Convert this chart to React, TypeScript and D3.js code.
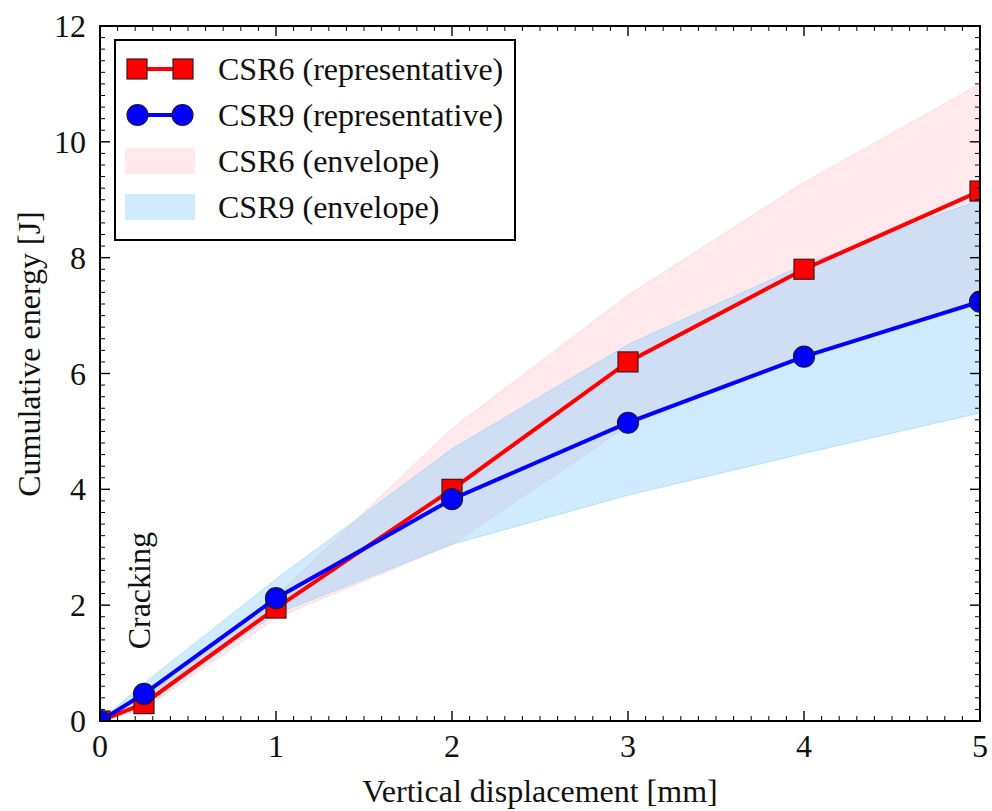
import React from "react";
import * as d3 from "d3";

// Displacement steps [mm]
const displacement = [0, 0.25, 1, 2, 3, 4, 5];

// Representative specimens: cumulative energy [J]
const csr6Rep = [0, 0.3, 1.95, 4.0, 6.2, 7.8, 9.15];
const csr9Rep = [0, 0.47, 2.12, 3.83, 5.15, 6.29, 7.24];

// Envelopes (min / max over all specimens) [J]
const csr6Lower = [0, 0.2, 1.78, 3.05, 5.1, 6.3, 7.2];
const csr6Upper = [0, 0.42, 2.15, 5.05, 7.35, 9.3, 11.0];
const csr9Lower = [0, 0.33, 1.85, 3.05, 3.9, 4.62, 5.32];
const csr9Upper = [0, 0.65, 2.45, 4.7, 6.5, 7.88, 9.0];

const xTicks = [0, 1, 2, 3, 4, 5];
const yTicks = [0, 2, 4, 6, 8, 10, 12];

const legendItems = [
  { label: "CSR6 (representative)", kind: "square" },
  { label: "CSR9 (representative)", kind: "circle" },
  { label: "CSR6 (envelope)", kind: "pinkFill" },
  { label: "CSR9 (envelope)", kind: "blueFill" },
];

const W = 992;
const H = 811;
const M = { left: 100, right: 980, top: 26, bottom: 721 };
const FONT = "Liberation Serif, Times New Roman, DejaVu Serif, serif";
const FS = 32;
const RED = "#ff0000";
const BLUE = "#0000ff";
const PINK_FILL = "rgba(255,192,203,0.35)";
const BLUE_FILL = "rgba(135,206,250,0.4)";

export default function App() {
  const x = d3.scaleLinear().domain([0, 5]).range([M.left, M.right]);
  const y = d3.scaleLinear().domain([0, 12]).range([M.bottom, M.top]);

  const band = (lo: number[], hi: number[]) =>
    d3
      .area<number>()
      .x((_, i) => x(displacement[i]))
      .y0((_, i) => y(lo[i]))
      .y1((_, i) => y(hi[i]))(displacement) || "";

  const line = (vals: number[]) =>
    d3
      .line<number>()
      .x((_, i) => x(displacement[i]))
      .y((d) => y(d))(vals) || "";

  const xMinor = d3.range(0, 5.0001, 0.1);
  const yMinor = d3.range(0, 12.0001, 0.2);
  const majLen = 10;
  const minLen = 5;

  const sq = 20;
  const r = 10.5;

  return (
    <svg
      width={W}
      height={H}
      style={{ display: "block", position: "absolute", left: 0, top: 0, fontFamily: FONT }}
    >
      <rect width={W} height={H} fill="#fff" />
      <defs>
        <clipPath id="plotClip">
          <rect x={M.left} y={M.top} width={M.right - M.left} height={M.bottom - M.top} />
        </clipPath>
      </defs>

      <g clipPath="url(#plotClip)">
        <path d={band(csr6Lower, csr6Upper)} fill={PINK_FILL} stroke="rgba(255,192,203,0.5)" strokeWidth={1} />
        <path d={band(csr9Lower, csr9Upper)} fill={BLUE_FILL} stroke="rgba(135,206,250,0.5)" strokeWidth={1} />

        <path d={line(csr6Rep)} fill="none" stroke={RED} strokeWidth={4} />
        {csr6Rep.map((v, i) => (
          <rect
            key={"s" + i}
            x={x(displacement[i]) - sq / 2}
            y={y(v) - sq / 2}
            width={sq}
            height={sq}
            fill={RED}
            stroke="#3a1a1a"
            strokeWidth={1.2}
          />
        ))}

        <path d={line(csr9Rep)} fill="none" stroke={BLUE} strokeWidth={4} />
        {csr9Rep.map((v, i) => (
          <circle key={"c" + i} cx={x(displacement[i])} cy={y(v)} r={r} fill={BLUE} stroke="#1a1a3a" strokeWidth={1.2} />
        ))}
      </g>

      {/* ticks on all four sides, pointing inward */}
      <g stroke="#000" strokeWidth={1}>
        {xMinor.map((t, i) => {
          const isMaj = Math.abs(t - Math.round(t)) < 1e-6;
          const len = isMaj ? majLen : minLen;
          const px = x(t);
          return (
            <g key={"xm" + i}>
              <line x1={px} x2={px} y1={M.bottom} y2={M.bottom - len} strokeWidth={isMaj ? 1.4 : 1} />
              <line x1={px} x2={px} y1={M.top} y2={M.top + len} strokeWidth={isMaj ? 1.4 : 1} />
            </g>
          );
        })}
        {yMinor.map((t, i) => {
          const isMaj = Math.abs(t / 2 - Math.round(t / 2)) < 1e-6;
          const len = isMaj ? majLen : minLen;
          const py = y(t);
          return (
            <g key={"ym" + i}>
              <line x1={M.left} x2={M.left + len} y1={py} y2={py} strokeWidth={isMaj ? 1.4 : 1} />
              <line x1={M.right} x2={M.right - len} y1={py} y2={py} strokeWidth={isMaj ? 1.4 : 1} />
            </g>
          );
        })}
      </g>

      <rect
        x={M.left}
        y={M.top}
        width={M.right - M.left}
        height={M.bottom - M.top}
        fill="none"
        stroke="#000"
        strokeWidth={2}
      />

      {/* tick labels */}
      {xTicks.map((t) => (
        <text key={"xl" + t} x={x(t)} y={M.bottom + 36} fontSize={FS} textAnchor="middle" fill="#111">
          {t}
        </text>
      ))}
      {yTicks.map((t) => (
        <text key={"yl" + t} x={M.left - 14} y={y(t) + 11} fontSize={FS} textAnchor="end" fill="#111">
          {t}
        </text>
      ))}

      {/* axis titles */}
      <text x={(M.left + M.right) / 2} y={802} fontSize={FS} textAnchor="middle" fill="#111">
        Vertical displacement [mm]
      </text>
      <text
        transform={`translate(40, 354) rotate(-90)`}
        fontSize={FS}
        textAnchor="middle"
        fill="#111"
      >
        Cumulative energy [J]
      </text>

      {/* annotation */}
      <text
        transform={`translate(${x(0.25) + 6}, ${y(2.25)}) rotate(-90)`}
        fontSize={FS}
        textAnchor="middle"
        fill="#111"
      >
        Cracking
      </text>

      {/* legend */}
      <g transform="translate(115, 40)">
        <rect x={0} y={0} width={400} height={200} fill="#fff" stroke="#000" strokeWidth={2} />
        {legendItems.map((item, i) => {
          const cy = 29 + i * 46;
          const x0 = 12;
          const x1 = 78;
          let glyph: React.ReactNode = null;
          if (item.kind === "square") {
            glyph = (
              <g>
                <line x1={x0 + 10} x2={x1 - 10} y1={cy} y2={cy} stroke={RED} strokeWidth={4} />
                <rect x={x0} y={cy - sq / 2} width={sq} height={sq} fill={RED} stroke="#3a1a1a" strokeWidth={1.2} />
                <rect x={x1 - sq} y={cy - sq / 2} width={sq} height={sq} fill={RED} stroke="#3a1a1a" strokeWidth={1.2} />
              </g>
            );
          } else if (item.kind === "circle") {
            glyph = (
              <g>
                <line x1={x0 + 10} x2={x1 - 10} y1={cy} y2={cy} stroke={BLUE} strokeWidth={4} />
                <circle cx={x0 + r} cy={cy} r={r} fill={BLUE} stroke="#1a1a3a" strokeWidth={1.2} />
                <circle cx={x1 - r} cy={cy} r={r} fill={BLUE} stroke="#1a1a3a" strokeWidth={1.2} />
              </g>
            );
          } else {
            glyph = (
              <rect
                x={x0 - 2}
                y={cy - 13}
                width={x1 - x0 + 4}
                height={26}
                fill={item.kind === "pinkFill" ? PINK_FILL : BLUE_FILL}
              />
            );
          }
          return (
            <g key={item.label}>
              {glyph}
              <text x={103} y={cy + 11} fontSize={FS} fill="#111">
                {item.label}
              </text>
            </g>
          );
        })}
      </g>
    </svg>
  );
}
